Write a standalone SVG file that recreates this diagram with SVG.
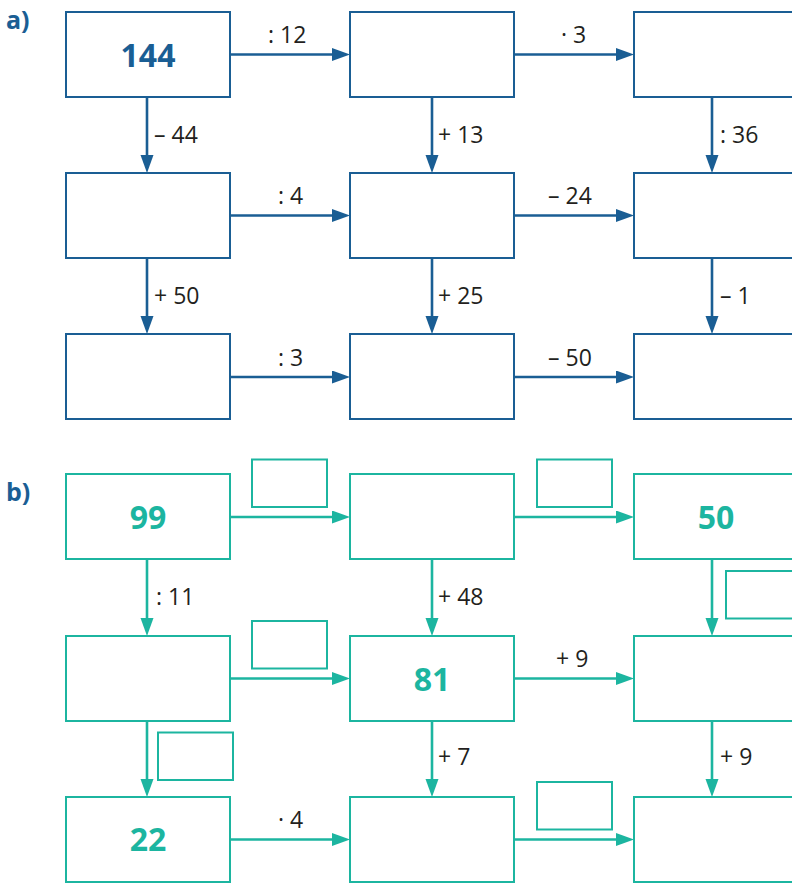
<svg xmlns="http://www.w3.org/2000/svg" width="792" height="883" viewBox="0 0 792 883">
<style>
.bb{fill:#fff;stroke:#1a5e94;stroke-width:2}
.tb{fill:#fff;stroke:#1cb5a0;stroke-width:2}
.la{stroke:#1a5e94;stroke-width:2.6;fill:none}
.lt{stroke:#1cb5a0;stroke-width:2.6;fill:none}
.lbl{font-family:"Open Sans","Liberation Sans",sans-serif;font-size:23px;fill:#231f20}
.big{font-family:"Open Sans","Liberation Sans",sans-serif;font-size:32px;font-weight:bold;text-anchor:middle}
.hd{font-family:"Open Sans","Liberation Sans",sans-serif;font-size:25px;font-weight:bold;fill:#1a5e94}
</style>
<defs>
<marker id="ab" markerUnits="userSpaceOnUse" markerWidth="20" markerHeight="14" refX="10" refY="6.5" orient="auto"><path d="M0,0 L18,6.5 L0,13 z" fill="#1a5e94"/></marker>
<marker id="at" markerUnits="userSpaceOnUse" markerWidth="20" markerHeight="14" refX="10" refY="6.5" orient="auto"><path d="M0,0 L18,6.5 L0,13 z" fill="#1cb5a0"/></marker>
</defs>
<text class="hd" x="6" y="29">a)</text>
<text class="hd" x="6" y="501">b)</text>
<g id="connectors">
<line class="la" x1="230" y1="54.5" x2="342" y2="54.5" marker-end="url(#ab)"/>
<line class="la" x1="514" y1="54.5" x2="626" y2="54.5" marker-end="url(#ab)"/>
<line class="la" x1="230" y1="215.5" x2="342" y2="215.5" marker-end="url(#ab)"/>
<line class="la" x1="514" y1="215.5" x2="626" y2="215.5" marker-end="url(#ab)"/>
<line class="la" x1="230" y1="377" x2="342" y2="377" marker-end="url(#ab)"/>
<line class="la" x1="514" y1="377" x2="626" y2="377" marker-end="url(#ab)"/>
<line class="la" x1="147" y1="97" x2="147" y2="165" marker-end="url(#ab)"/>
<line class="la" x1="432" y1="97" x2="432" y2="165" marker-end="url(#ab)"/>
<line class="la" x1="712" y1="97" x2="712" y2="165" marker-end="url(#ab)"/>
<line class="la" x1="147" y1="258" x2="147" y2="326" marker-end="url(#ab)"/>
<line class="la" x1="432" y1="258" x2="432" y2="326" marker-end="url(#ab)"/>
<line class="la" x1="712" y1="258" x2="712" y2="326" marker-end="url(#ab)"/>
<line class="lt" x1="230" y1="517" x2="342" y2="517" marker-end="url(#at)"/>
<line class="lt" x1="514" y1="517" x2="626" y2="517" marker-end="url(#at)"/>
<line class="lt" x1="230" y1="678.5" x2="342" y2="678.5" marker-end="url(#at)"/>
<line class="lt" x1="514" y1="678.5" x2="626" y2="678.5" marker-end="url(#at)"/>
<line class="lt" x1="230" y1="839.5" x2="342" y2="839.5" marker-end="url(#at)"/>
<line class="lt" x1="514" y1="839.5" x2="626" y2="839.5" marker-end="url(#at)"/>
<line class="lt" x1="147" y1="559" x2="147" y2="628" marker-end="url(#at)"/>
<line class="lt" x1="432" y1="559" x2="432" y2="628" marker-end="url(#at)"/>
<line class="lt" x1="712" y1="559" x2="712" y2="628" marker-end="url(#at)"/>
<line class="lt" x1="147" y1="721" x2="147" y2="789" marker-end="url(#at)"/>
<line class="lt" x1="432" y1="721" x2="432" y2="789" marker-end="url(#at)"/>
<line class="lt" x1="712" y1="721" x2="712" y2="789" marker-end="url(#at)"/>
<text class="lbl" x="268" y="43">: 12</text>
<text class="lbl" x="561" y="43">· 3</text>
<text class="lbl" x="278" y="204">: 4</text>
<text class="lbl" x="548" y="204">– 24</text>
<text class="lbl" x="278" y="366">: 3</text>
<text class="lbl" x="548" y="366">– 50</text>
<text class="lbl" x="154" y="143">– 44</text>
<text class="lbl" x="438" y="143">+ 13</text>
<text class="lbl" x="720" y="143">: 36</text>
<text class="lbl" x="154" y="304">+ 50</text>
<text class="lbl" x="438" y="304">+ 25</text>
<text class="lbl" x="720" y="304">– 1</text>
<text class="lbl" x="156" y="605">: 11</text>
<text class="lbl" x="438" y="605">+ 48</text>
<text class="lbl" x="556" y="667">+ 9</text>
<text class="lbl" x="438" y="765">+ 7</text>
<text class="lbl" x="720" y="765">+ 9</text>
<text class="lbl" x="278" y="828">· 4</text>
<rect class="tb" x="252" y="459.5" width="75" height="47.5"/>
<rect class="tb" x="537" y="459.5" width="75" height="47.5"/>
<rect class="tb" x="252" y="621" width="75" height="47.5"/>
<rect class="tb" x="726" y="571" width="75" height="47.5"/>
<rect class="tb" x="158" y="732.5" width="75" height="47.5"/>
<rect class="tb" x="537" y="782" width="75" height="47.5"/>
</g>
<g id="a11"><rect class="bb" x="66" y="12" width="164" height="85"/><text class="big" x="148" y="66.5" fill="#1a5e94">144</text></g>
<g id="a12"><rect class="bb" x="350" y="12" width="164" height="85"/></g>
<g id="a13"><rect class="bb" x="634" y="12" width="170" height="85"/></g>
<g id="a21"><rect class="bb" x="66" y="173" width="164" height="85"/></g>
<g id="a22"><rect class="bb" x="350" y="173" width="164" height="85"/></g>
<g id="a23"><rect class="bb" x="634" y="173" width="170" height="85"/></g>
<g id="a31"><rect class="bb" x="66" y="334" width="164" height="85"/></g>
<g id="a32"><rect class="bb" x="350" y="334" width="164" height="85"/></g>
<g id="a33"><rect class="bb" x="634" y="334" width="170" height="85"/></g>
<g id="b11"><rect class="tb" x="66" y="474" width="164" height="85"/><text class="big" x="148" y="529" fill="#1cb5a0">99</text></g>
<g id="b12"><rect class="tb" x="350" y="474" width="164" height="85"/></g>
<g id="b13"><rect class="tb" x="634" y="474" width="170" height="85"/><text class="big" x="716" y="529" fill="#1cb5a0">50</text></g>
<g id="b21"><rect class="tb" x="66" y="636" width="164" height="85"/></g>
<g id="b22"><rect class="tb" x="350" y="636" width="164" height="85"/><text class="big" x="432" y="691" fill="#1cb5a0">81</text></g>
<g id="b23"><rect class="tb" x="634" y="636" width="170" height="85"/></g>
<g id="b31"><rect class="tb" x="66" y="797" width="164" height="85"/><text class="big" x="148" y="851" fill="#1cb5a0">22</text></g>
<g id="b32"><rect class="tb" x="350" y="797" width="164" height="85"/></g>
<g id="b33"><rect class="tb" x="634" y="797" width="170" height="85"/></g>
</svg>
